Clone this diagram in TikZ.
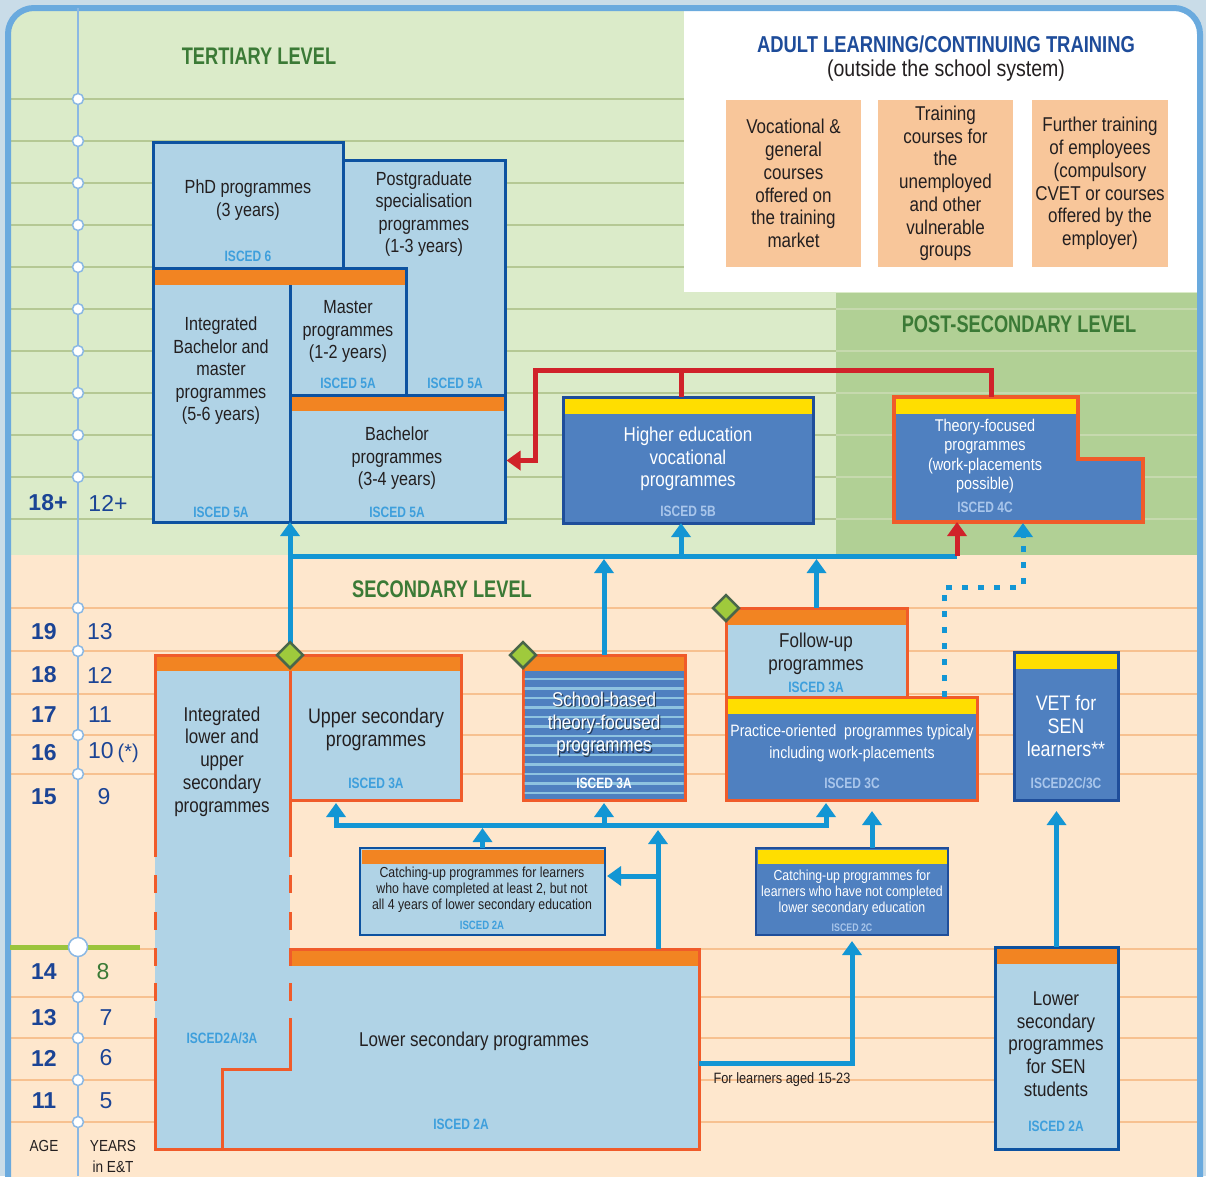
\documentclass[tikz,border=0pt]{standalone}
\usepackage{fontspec}
\setmainfont{Liberation Sans}[FakeStretch=0.85]
\newfontfamily\titlefont{Liberation Sans Bold}[FakeStretch=0.76]
\newfontfamily\adtfont{Liberation Sans Bold}[FakeStretch=0.8]
\newfontfamily\iscedfont{Liberation Sans Bold}[FakeStretch=0.8]
\newfontfamily\agefont{Liberation Sans Bold}
\newfontfamily\yearfont{Liberation Sans}
\usetikzlibrary{arrows.meta,calc,fit,shapes.geometric}
\definecolor{framebg}{HTML}{C9DCE8}
\definecolor{framebl}{HTML}{6AAADE}
\definecolor{tergreen}{HTML}{DBEBC9}
\definecolor{postgreen}{HTML}{B1D095}
\definecolor{terline}{HTML}{B5C894}
\definecolor{postline}{HTML}{C6D9AE}
\definecolor{secpeach}{HTML}{FEE7CD}
\definecolor{secline}{HTML}{F7C190}
\definecolor{axisbl}{HTML}{8BB8E3}
\definecolor{lblue}{HTML}{B0D3E6}
\definecolor{dblue}{HTML}{0D52A0}
\definecolor{orbar}{HTML}{F28422}
\definecolor{oborder}{HTML}{F05B2A}
\definecolor{mblue}{HTML}{4F80C0}
\definecolor{yelbar}{HTML}{FFDE00}
\definecolor{arrbl}{HTML}{1396D4}
\definecolor{redc}{HTML}{D0222A}
\definecolor{iscedl}{HTML}{3E9FDC}
\definecolor{iscedp}{HTML}{A9C6EB}
\definecolor{dfill}{HTML}{9FCA3C}
\definecolor{dborder}{HTML}{49664A}
\definecolor{titlegreen}{HTML}{3B7A36}
\definecolor{ageblue}{HTML}{1B4495}
\definecolor{adpeach}{HTML}{F8C69A}
\definecolor{adtitle}{HTML}{1E4C9A}
\definecolor{txt}{HTML}{231F20}
\definecolor{stripe}{HTML}{8EC3E0}
\definecolor{greenbar}{HTML}{9BC43C}
\definecolor{hevborder}{HTML}{1F4E9A}
\newcommand\szBody{\fontsize{20}{22.7}\selectfont}
\newcommand\szPhd{\fontsize{19}{22.5}\selectfont}
\newcommand\szMid{\fontsize{17}{19.5}\selectfont}
\newcommand\szPrac{\fontsize{16.5}{22}\selectfont}
\newcommand\szCatch{\fontsize{14.5}{16}\selectfont}
\begin{document}
\begin{tikzpicture}[x=1pt,y=-1pt,>={Triangle[width=19pt,length=14pt]},
  lbbox/.style={fill=lblue,draw=dblue,line width=3pt,inner sep=0pt,outer sep=0pt},
  mbbox/.style={fill=mblue,draw=hevborder,line width=3pt,inner sep=0pt,outer sep=0pt},
  obox/.style={fill=lblue,draw=oborder,line width=3pt,inner sep=0pt,outer sep=0pt},
  obd/.style={draw=oborder,line width=3pt},
  adbox/.style={fill=adpeach,text=txt,align=center,font=\szBody,inner sep=0pt},
  bodytxt/.style={text=txt,align=center,font=\szBody,inner sep=0pt},
  whtxt/.style={text=white,align=center,font=\szBody,inner sep=0pt},
  iscL/.style={text=iscedl,font=\iscedfont\fontsize{15}{15}\selectfont,inner sep=0pt},
  iscP/.style={text=iscedp,font=\iscedfont\fontsize{15}{15}\selectfont,inner sep=0pt},
  ttl/.style={text=titlegreen,font=\titlefont\fontsize{24}{24}\selectfont,inner sep=0pt},
  agel/.style={text=ageblue,font=\agefont\fontsize{23}{23}\selectfont,inner sep=0pt},
  yearl/.style={text=ageblue,font=\yearfont\fontsize{23}{23}\selectfont,inner sep=0pt},
  dotc/.style={circle,fill=white,draw=axisbl,line width=1.5pt,minimum size=11pt,inner sep=0pt},
  dmd/.style={diamond,fill=dfill,draw=dborder,line width=2.5pt,minimum width=27pt,minimum height=27pt,inner sep=0pt},
  bl/.style={draw=arrbl,line width=5pt},
  redl/.style={draw=redc,line width=5pt},
  dotl/.style={draw=arrbl,line width=5pt,dash pattern=on 6pt off 10pt}]
\useasboundingbox (0,0) rectangle (1206,1176);
\fill[fill=framebg] (0,0) rectangle (1206,1176);
\begin{scope}
  \clip[rounded corners=26pt] (8,8) rectangle (1200,1220);
  \fill[fill=tergreen] (0,0) rectangle (1206,555);
  \fill[fill=secpeach] (0,555) rectangle (1206,1220);
  \fill[fill=postgreen] (836,293) rectangle (1206,555);
  \foreach \y in {99,141,...,519} {\draw[draw=terline,line width=2pt] (0,\y) -- (836,\y); \draw[draw=postline,line width=2pt] (836,\y) -- (1206,\y);}
  \foreach \y in {608,651,694,735,774,949,997,1038,1080,1122} \draw[draw=secline,line width=2pt] (0,\y) -- (1206,\y);
  \fill[fill=white] (684,0) rectangle (1206,292);
\end{scope}
\draw[draw=framebl,line width=6pt,rounded corners=26pt] (8,8) rectangle (1200,1220);

% axis
\draw[draw=axisbl,line width=2.5pt] (78,8) -- (78,1176);
\draw[draw=greenbar,line width=5pt] (10,947) -- (140,947);
\foreach \y in {99,141,183,225,267,309,351,393,435,477,608,651,735,774,997,1038,1080,1122} \node[dotc] (c\y) at (78,\y) {};
\node[dotc,minimum size=19pt] (cbig) at (78,947) {};

% ages and years
\node[agel] (a18p) at (48,503) {18+};
\node[yearl] (y12p) at (108,503) {12+};
\node[agel] (a19) at (44,632) {19};
\node[agel] (a18) at (44,675) {18};
\node[agel] (a17) at (44,715) {17};
\node[agel] (a16) at (44,753) {16};
\node[agel] (a15) at (44,797) {15};
\node[agel] (a14) at (44,972) {14};
\node[agel] (a13) at (44,1018) {13};
\node[agel] (a12) at (44,1058) {12};
\node[agel] (a11) at (44,1101) {11};
\node[yearl] (y13) at (100,632) {13};
\node[yearl] (y12) at (100,675) {12};
\node[yearl] (y11) at (100,715) {11};
\node[yearl,anchor=west] (y10) at (88,753) {10\,{\fontsize{20}{20}\selectfont(*)}};
\node[yearl] (y9) at (104,797) {9};
\node[yearl,text=titlegreen] (y8) at (103,972) {8};
\node[yearl] (y7) at (106,1018) {7};
\node[yearl] (y6) at (106,1058) {6};
\node[yearl] (y5) at (106,1101) {5};
\node[bodytxt,font=\fontsize{16}{16}\selectfont] (ageL) at (44,1146) {AGE};
\node[bodytxt,font=\fontsize{16}{16}\selectfont] (yearsL) at (113,1146) {YEARS};
\node[bodytxt,font=\fontsize{16}{16}\selectfont] (inET) at (113,1167) {in E\&T};

% titles
\node[ttl] (tTer) at (259,56) {TERTIARY LEVEL};
\node[ttl] (tSec) at (442,589) {SECONDARY LEVEL};
\node[ttl] (tPost) at (1019,324) {POST-SECONDARY LEVEL};
\node[text=adtitle,font=\adtfont\fontsize{23}{23}\selectfont,inner sep=0pt] (tAd) at (946,44) {ADULT LEARNING/CONTINUING TRAINING};
\node[bodytxt,font=\fontsize{23}{23}\selectfont] (tAd2) at (946,71) {(outside the school system)};

% adult boxes
\node[adbox,minimum width=135pt,minimum height=167pt] (ad1) at (793.5,183.5) {Vocational \&\\general\\courses\\offered on\\the training\\market};
\node[adbox,minimum width=135pt,minimum height=167pt] (ad2) at (945.5,183.5) {Training\\courses for\\the\\unemployed\\and other\\vulnerable\\groups};
\node[adbox,minimum width=136pt,minimum height=167pt] (ad3) at (1100,183.5) {Further training\\of employees\\(compulsory\\CVET or courses\\offered by the\\employer)};

% tertiary boxes
\node[lbbox,fit={(343,160)(505,395)}] (pg) {};
\node[lbbox,fit={(153,142)(343,268)}] (phd) {};
\node[lbbox,fit={(153,268)(290,522)}] (ibm) {};
\node[lbbox,fit={(290,268)(406,395)}] (mas) {};
\node[lbbox,fit={(290,395)(505,522)}] (bach) {};
\fill[fill=orbar] (154.5,269.5) rectangle (404.5,285);
\fill[fill=orbar] (291.5,396.5) rectangle (503.5,411);
\node[bodytxt,font=\szPhd] (phdT) at (248,200) {PhD programmes\\(3 years)};
\node[iscL] (phdI) at (248,256) {ISCED 6};
\node[bodytxt,font=\szPhd] (pgT) at (424,214) {Postgraduate\\specialisation\\programmes\\(1-3 years)};
\node[iscL] (pgI) at (455,383) {ISCED 5A};
\node[bodytxt,font=\szPhd] (ibmT) at (221,371) {Integrated\\Bachelor and\\master\\programmes\\(5-6 years)};
\node[iscL] (ibmI) at (221,512) {ISCED 5A};
\node[bodytxt,font=\szPhd] (masT) at (348,331.5) {Master\\programmes\\(1-2 years)};
\node[iscL] (masI) at (348,383) {ISCED 5A};
\node[bodytxt,font=\szPhd] (bachT) at (397,458.5) {Bachelor\\programmes\\(3-4 years)};
\node[iscL] (bachI) at (397,512) {ISCED 5A};

% higher education vocational
\node[mbbox,fit={(563,397)(813,523)}] (hev) {};
\fill[fill=yelbar] (564.5,398.5) rectangle (811.5,414);
\node[whtxt] (hevT) at (688,459) {Higher education\\vocational\\programmes};
\node[iscP] (hevI) at (688,511) {ISCED 5B};

% theory-focused post-secondary
\node[inner sep=0pt,outer sep=0pt,fit={(894,397)(1078,522)}] (theo) {};
\filldraw[fill=mblue,draw=oborder,line width=3.5pt] (894,397) -- (1078,397) -- (1078,459) -- (1143,459) -- (1143,522) -- (894,522) -- cycle;
\fill[fill=yelbar] (896,399) rectangle (1076,414);
\node[whtxt,font=\szMid] (theoT) at (985,456) {Theory-focused\\programmes\\(work-placements\\possible)};
\node[iscP] (theoI) at (985,507) {ISCED 4C};

% red connectors
\draw[redl,->] ($(theo.north west)+(97,0)$) -- ++(0,-27) -| ($(bach.east)+(30,2)$) -- ($(bach.east)+(1.5,2)$);
\draw[redl] ($(hev.north)+(-7,0)$) -- ++(0,-27);

% coordinates for the upper network
\coordinate (d1c) at (290,655);
\coordinate (d2c) at (523,655);
\coordinate (d3c) at (726,608);
\coordinate (jl) at (290,556);
\coordinate (jr) at (957,556);

% secondary fills and boxes
\node[inner sep=0pt,outer sep=0pt,fit={(155,655)(290,1149)}] (ilu) {};
\node[inner sep=0pt,outer sep=0pt,fit={(290,949)(699,1149)}] (lsec) {};
\fill[fill=lblue] (155,655) rectangle (290,1149);
\fill[fill=lblue] (290,949) -- (699,949) -- (699,1149) -- (222,1149) -- (222,1069) -- (290,1069) -- cycle;
\node[obox,fit={(290,655)(461,800)}] (usec) {};
\node[obox,fill=mblue,fit={(523,655)(685,800)}] (school) {};
\begin{scope}
  \clip (524.5,671) rectangle (683.5,798.5);
  \foreach \k in {0,...,12} \fill[fill=stripe] (524,{677.7+9.5*\k}) rectangle (684,{680.4+9.5*\k});
\end{scope}
\node[obox,fit={(726,608)(907,697)}] (fu) {};
\node[obox,fill=mblue,fit={(726,697)(977,800)}] (prac) {};
\node[mbbox,fit={(1014,652)(1118,800)}] (vet) {};
\node[lbbox,fit={(995,947)(1118,1149)}] (lsen) {};
\node[lbbox,line width=2.5pt,fit={(360,848)(605,935)}] (c2a) {};
\node[mbbox,line width=2.5pt,fit={(756,848)(948,935)}] (c2c) {};

% bars
\fill[fill=orbar] (156.5,656.5) rectangle (459.5,671);
\fill[fill=orbar] (524.5,656.5) rectangle (683.5,671);
\fill[fill=orbar] (727.5,609.5) rectangle (905.5,625);
\fill[fill=yelbar] (727.5,698.5) rectangle (975.5,714);
\fill[fill=yelbar] (1015.5,653.5) rectangle (1116.5,669);
\fill[fill=orbar] (996.5,948.5) rectangle (1116.5,964);
\fill[fill=orbar] (361.5,849.5) rectangle (603.5,864);
\fill[fill=yelbar] (757.5,849.5) rectangle (946.5,864);
\fill[fill=orbar] (291.5,950.5) rectangle (697.5,966);

% integrated / lower secondary outlines
\draw[obd] (155,857) -- (155,655) -- (290,655);
\draw[obd] (290,800) -- (290,857);
\foreach \a in {875,912,948,983} {\draw[obd] (155,\a) -- (155,{\a+18}); \draw[obd] (290,\a) -- (290,{\a+18});}
\draw[obd] (155,1018) -- (155,1149) -- (699,1149) -- (699,949) -- (290,949);
\draw[obd] (290,1018) -- (290,1069) -- (222,1069) -- (222,1149);

% secondary texts
\node[bodytxt] (iluT) at (222,761.5) {Integrated\\lower and\\upper\\secondary\\programmes};
\node[iscL] (iluI) at (222,1038) {ISCED2A/3A};
\node[bodytxt,font=\fontsize{21}{23}\selectfont] (usecT) at (376,729.5) {Upper secondary\\programmes};
\node[iscL] (usecI) at (376,783) {ISCED 3A};
\node[whtxt,text=black,opacity=0.55] (schoolS) at (605.3,725.3) {School-based\\theory-focused\\programmes};
\node[whtxt] (schoolT) at (604,724) {School-based\\theory-focused\\programmes};
\node[iscL,text=white] (schoolI) at (604,783) {ISCED 3A};
\node[bodytxt] (fuT) at (816,653.5) {Follow-up\\programmes};
\node[iscL] (fuI) at (816,687) {ISCED 3A};
\node[whtxt,font=\szPrac] (pracT) at (852,743) {Practice-oriented\ \ programmes typicaly\\including work-placements};
\node[iscP] (pracI) at (852,783) {ISCED 3C};
\node[whtxt,font=\fontsize{21}{23}\selectfont] (vetT) at (1066,726) {VET for\\SEN\\learners**};
\node[iscP] (vetI) at (1066,783) {ISCED2C/3C};
\node[bodytxt,font=\szCatch] (c2aT) at (482,890) {Catching-up programmes for learners\\who have completed at least 2, but not\\all 4 years of lower secondary education};
\node[iscL,font=\iscedfont\fontsize{12}{12}\selectfont] (c2aI) at (482,925) {ISCED 2A};
\node[whtxt,font=\szCatch] (c2cT) at (852,893) {Catching-up programmes for\\learners who have not completed\\lower secondary education};
\node[iscP,font=\iscedfont\fontsize{11}{11}\selectfont] (c2cI) at (852,928) {ISCED 2C};
\node[bodytxt] (lsecT) at (474,1041) {Lower secondary programmes};
\node[iscL] (lsecI) at (461,1124) {ISCED 2A};
\node[bodytxt] (lsenT) at (1056,1044) {Lower\\secondary\\programmes\\for SEN\\students};
\node[iscL] (lsenI) at (1056,1126) {ISCED 2A};
\node[bodytxt,font=\fontsize{15}{15}\selectfont] (for1523) at (782,1080) {For learners aged 15-23};

% blue connectors, upper network
\draw[bl] (jl) -- (jr);
\draw[bl,->] (d1c) -- (bach.south west);
\draw[redl,->] (jr) -- (jr |- theo.south);
\draw[bl,->] ($(hev.south)+(-7,33)$) -- ($(hev.south)+(-7,0)$);
\draw[bl,->] (school.north) -- ($(school.north |- jl)+(0,3)$);
\draw[bl,->] (fu.north) -- ($(fu.north |- jl)+(0,3)$);
\draw[dotl] ($(prac.north west)+(218,0)$) -- ++(0,-110) -| ($(theo.south west)+(129,13)$);
\draw[bl,->] ($(theo.south west)+(129,16)$) -- ($(theo.south west)+(129,1)$);

% blue connectors, secondary
\draw[bl,<->] ($(usec.south west)+(46,3)$) |- ($(prac.south west)+(100,25)$) -- ($(prac.south west)+(100,3)$);
\draw[bl,->] ($(school.south)+(0,25)$) -- ($(school.south)+(0,3)$);
\draw[bl,->] (c2a.north) -- ($(c2a.north)+(0,-20)$);
\draw[bl,->] ($(lsec.north west)+(368,0)$) -- ($(lsec.north west)+(368,-119)$);
\draw[bl,->] ($(c2a.north east)+(53,28)$) -- ($(c2a.north east)+(2,28)$);
\draw[bl,->] ($(c2c.north)+(20,0)$) -- ($(c2c.north)+(20,-37)$);
\draw[bl,->] ($(lsec.north east)+(0,114)$) -| ($(c2c.south)+(0,6)$);
\draw[bl,->] (lsen.north) -- ($(lsen.north)+(0,-136)$);

% diamonds
\node[dmd] (d1) at (d1c) {};
\node[dmd] (d2) at (d2c) {};
\node[dmd] (d3) at (d3c) {};
\end{tikzpicture}
\end{document}
